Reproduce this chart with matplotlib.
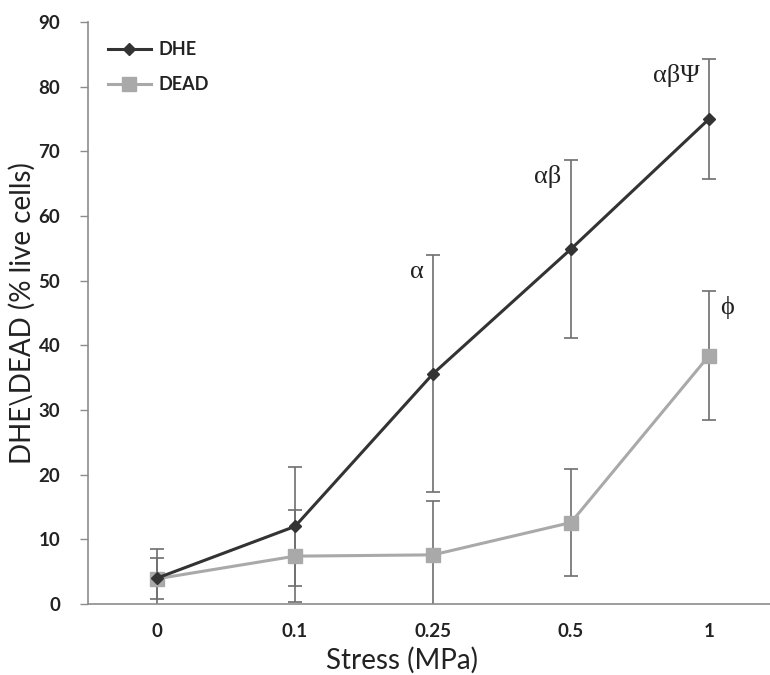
import matplotlib
matplotlib.use("Agg")
import matplotlib.pyplot as plt

stress_labels = ["0", "0.1", "0.25", "0.5", "1"]
dhe_mean = [4.0, 12.0, 35.6, 54.9, 75.0]
dhe_err = [4.5, 9.2, 18.3, 13.8, 9.3]
dead_mean = [3.9, 7.4, 7.6, 12.6, 38.4]
dead_err = [3.2, 7.1, 8.3, 8.2, 10.0]

# significance marks per stress level
sig_dhe = ["", "", "α", "αβ", "αβΨ"]
sig_dead = ["", "", "", "", "ϕ"]

plt.rcParams["font.family"] = ["Lato", "DejaVu Sans"]

W, H = 770, 675
fig = plt.figure(figsize=(W / 100, H / 100), dpi=100)
ax = fig.add_axes([88 / W, 71 / H, (W - 88) / W, 582 / H])

x = list(range(len(stress_labels)))

ax.errorbar(x, dhe_mean, yerr=dhe_err, fmt="none", ecolor="#6e6e6e",
            elinewidth=1.2, capsize=5, capthick=1.2, zorder=2)
ax.errorbar(x, dead_mean, yerr=dead_err, fmt="none", ecolor="#6e6e6e",
            elinewidth=1.2, capsize=5, capthick=1.2, zorder=2)

ax.plot(x, dead_mean, color="#a9a9a9", lw=2.2, marker="s", ms=10,
        mec="#a9a9a9", mfc="#a9a9a9", label="DEAD", zorder=3)
ax.plot(x, dhe_mean, color="#333333", lw=2.2, marker="D", ms=6.5,
        mec="#333333", mfc="#333333", label="DHE", zorder=4)

serif = ["Liberation Serif", "DejaVu Serif"]
for i, t in enumerate(sig_dhe):
    if t:
        top = dhe_mean[i] + dhe_err[i]
        ax.text(i - 0.07, top - 0.8, t, ha="right", va="top",
                fontsize=19, family=serif, color="#222222")
for i, t in enumerate(sig_dead):
    if t:
        top = dead_mean[i] + dead_err[i]
        ax.text(i + 0.08, top - 0.8, t, ha="left", va="top",
                fontsize=19, family=serif, color="#222222")

ax.set_xlim(-0.5, -0.5 + (W - 88) / 138)
ax.set_ylim(0, 90)
ax.set_yticks(range(0, 91, 10))
ax.set_xticks(x)
ax.set_xticklabels(stress_labels)

for lab in ax.get_xticklabels() + ax.get_yticklabels():
    lab.set_fontweight("bold")
    lab.set_fontsize(13.5)
    lab.set_color("#222222")

ax.tick_params(axis="x", length=0, pad=14)
ax.tick_params(axis="y", length=6, width=1, color="#8c8c8c", pad=14)

for side in ("top", "right"):
    ax.spines[side].set_visible(False)
for side in ("left", "bottom"):
    ax.spines[side].set_color("#8c8c8c")
    ax.spines[side].set_linewidth(1.2)

ax.set_xlabel("Stress (MPa)", fontsize=20, color="#222222")
ax.set_ylabel("DHE\\DEAD (% live cells)", fontsize=20, color="#222222")
ax.xaxis.set_label_coords((402 - 88) / (W - 88), -56 / 582, transform=ax.transAxes)
ax.yaxis.set_label_coords(-66 / (W - 88), 0.5, transform=ax.transAxes)
ax.xaxis.label.set_va("center")
ax.yaxis.label.set_va("center")

handles, labels = ax.get_legend_handles_labels()
leg = ax.legend(handles[::-1], labels[::-1], loc="upper left",
                bbox_to_anchor=(0.005, 0.995), frameon=False,
                prop={"weight": "bold", "size": 13},
                handlelength=2.4, labelspacing=1.0, handletextpad=0.4)
for t in leg.get_texts():
    t.set_color("#222222")

fig.savefig("out.png", dpi=100)
